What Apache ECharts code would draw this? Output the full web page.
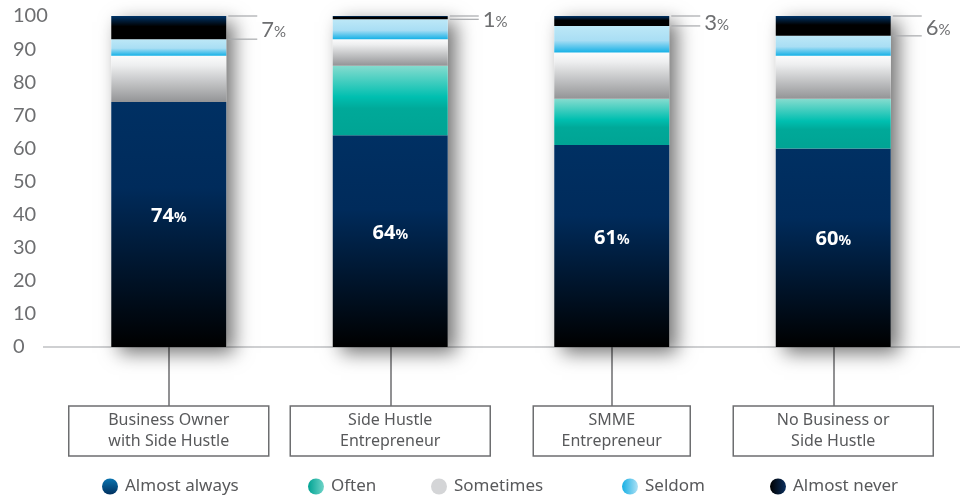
<!DOCTYPE html>
<html>
<head>
<meta charset="utf-8">
<script src="https://cdn.jsdelivr.net/npm/echarts@6/dist/echarts.min.js"></script>
<style>
  html, body { margin: 0; padding: 0; background: #ffffff; }
  #chart { width: 960px; height: 497px; }
</style>
</head>
<body>
<div id="chart"></div>
<script>
// Groups shown along the x axis
const categories = [
  'Business Owner\nwith Side Hustle',
  'Side Hustle\nEntrepreneur',
  'SMME\nEntrepreneur',
  'No Business or\nSide Hustle'
];

// Answer frequency, percent of each group
const seriesNames = ['Almost always', 'Often', 'Sometimes', 'Seldom', 'Almost never'];
const almostAlways = [74, 64, 61, 60];
const often        = [0, 21, 14, 15];
const sometimes    = [14, 8, 14, 13];
const seldom       = [5, 6, 8, 6];
const almostNever  = [7, 1, 3, 6];

const stackValues = [almostAlways, often, sometimes, seldom, almostNever];
const totals = categories.map((_, i) => stackValues.reduce((s, arr) => s + arr[i], 0));

// Layout / styling
const BAR_W = 115;
const boxWidths = [200, 200, 157, 200];
const legendLeft = [97, 303, 426, 617, 765];
const GREY_TEXT = '#6d6e70';

const vg = stops => ({
  type: 'linear', x: 0, y: 0, x2: 0, y2: 1,
  colorStops: stops.map(([offset, color]) => ({ offset, color }))
});
const hg = stops => ({
  type: 'linear', x: 0, y: 0, x2: 1, y2: 0,
  colorStops: stops.map(([offset, color]) => ({ offset, color }))
});

const segmentFills = [
  vg([[0, '#003063'], [0.35, '#002b5b'], [1, '#000000']]),
  vg([[0, '#86dccf'], [0.45, '#00bfb0'], [0.62, '#00a999'], [1, '#00a494']]),
  vg([[0, '#fcfcfc'], [0.2, '#eeeff0'], [1, '#939496']]),
  vg([[0, '#bde8f7'], [0.55, '#a9def4'], [1, '#16b1e6']]),
  vg([[0, '#003468'], [0.45, '#000000'], [1, '#000000']])
];

const legendFills = [
  vg([[0, '#0a74b0'], [1, '#00305f']]),
  hg([[0, '#00a393'], [1, '#6fd4c8']]),
  '#d4d5d7',
  hg([[0, '#15afe4'], [1, '#aee1f5']]),
  hg([[0, '#000000'], [1, '#0b2f5e']])
];

const chart = echarts.init(document.getElementById('chart'), null, { renderer: 'canvas' });

const barSeries = seriesNames.map((name, k) => ({
  name,
  type: 'bar',
  stack: 'share',
  barWidth: BAR_W,
  barGap: '-100%',
  data: stackValues[k],
  itemStyle: { color: segmentFills[k] },
  label: k === 0 ? {
    show: true,
    position: 'inside',
    offset: [0, -8],
    formatter: p => `{n|${p.value}}{p|%}`,
    rich: {
      n: { fontSize: 20, fontWeight: 'bold', color: '#ffffff', fontFamily: 'Noto Sans' },
      p: { fontSize: 14, fontWeight: 'bold', color: '#ffffff', fontFamily: 'Noto Sans', padding: [3, 0, 0, 0] }
    }
  } : { show: false },
  emphasis: { disabled: true },
  z: 3
}));

const option = {
  backgroundColor: '#ffffff',
  animation: false,
  grid: { left: 58, right: 16, top: 16, bottom: 150, containLabel: false, outerBoundsMode: 'none' },
  legend: seriesNames.map((name, i) => ({
    data: [{ name, itemStyle: { color: legendFills[i] } }],
    left: legendLeft[i],
    top: 473,
    icon: 'circle',
    itemWidth: 16,
    itemHeight: 16,
    selectedMode: false,
    textStyle: { color: '#58595b', fontSize: 17, fontFamily: 'Noto Sans', padding: [0, 0, 0, 2] }
  })),
  xAxis: {
    type: 'category',
    data: categories.map((c, i) => ({ value: c, textStyle: { width: boxWidths[i] } })),
    axisLine: { show: false },
    axisTick: { show: true, alignWithLabel: true, length: 59, lineStyle: { color: GREY_TEXT, width: 1.5 } },
    axisLabel: {
      interval: 0,
      margin: 59,
      color: '#58595b',
      fontSize: 16,
      lineHeight: 21,
      fontFamily: 'Noto Sans',
      align: 'center',
      borderColor: GREY_TEXT,
      borderWidth: 1.5,
      padding: [4, 0, 4, 0],
      width: 200
    },
    splitLine: { show: false }
  },
  yAxis: {
    type: 'value',
    min: 0,
    max: 100,
    interval: 10,
    axisLine: { show: false },
    axisTick: { show: false },
    splitLine: { show: false },
    axisLabel: { align: 'left', margin: 45, color: GREY_TEXT, fontSize: 20, fontFamily: 'Lato' }
  },
  series: [
    // soft drop shadow behind each full column
    {
      name: 'shadow',
      type: 'bar',
      stack: 'shadow',
      barWidth: BAR_W,
      barGap: '-100%',
      data: totals,
      clip: false,
      silent: true,
      itemStyle: {
        color: '#ffffff',
        shadowBlur: 18,
        shadowColor: 'rgba(0,0,0,0.55)',
        shadowOffsetX: 8,
        shadowOffsetY: 6
      },
      z: 1
    },
    ...barSeries,
    // bracket callouts for the "Almost never" share
    {
      name: 'callout',
      type: 'custom',
      silent: true,
      clip: false,
      z: 5,
      data: categories.map((_, i) => [i, totals[i], almostNever[i]]),
      renderItem: (params, api) => {
        const top = api.coord([api.value(0), api.value(1)]);
        const bot = api.coord([api.value(0), api.value(1) - api.value(2)]);
        const xr = top[0] + BAR_W / 2;
        const lineStyle = { stroke: '#a7a9ac', lineWidth: 1.2 };
        return {
          type: 'group',
          children: [
            { type: 'line', shape: { x1: xr + 2, y1: top[1], x2: xr + 31, y2: top[1] }, style: lineStyle },
            { type: 'line', shape: { x1: xr + 2, y1: bot[1], x2: xr + 31, y2: bot[1] }, style: lineStyle },
            {
              type: 'text',
              x: xr + 35,
              y: (top[1] + bot[1]) / 2 + 2,
              style: {
                text: `{n|${api.value(2)}}{p|%}`,
                verticalAlign: 'middle',
                align: 'left',
                rich: {
                  n: { fontSize: 22, fill: GREY_TEXT, fontFamily: 'Lato', verticalAlign: 'bottom' },
                  p: { fontSize: 15, fill: GREY_TEXT, fontFamily: 'Lato', verticalAlign: 'bottom', padding: [0, 0, 1, 0] }
                }
              }
            }
          ]
        };
      }
    }
  ]
};

chart.setOption(option);

// baseline running the full width under the columns
const y0 = chart.convertToPixel({ yAxisIndex: 0 }, 0);
chart.setOption({
  graphic: [{
    type: 'line',
    silent: true,
    z: 0,
    shape: { x1: 43, y1: y0, x2: 960, y2: y0 },
    style: { stroke: '#cfd0d2', lineWidth: 2 }
  }]
});
</script>
</body>
</html>
